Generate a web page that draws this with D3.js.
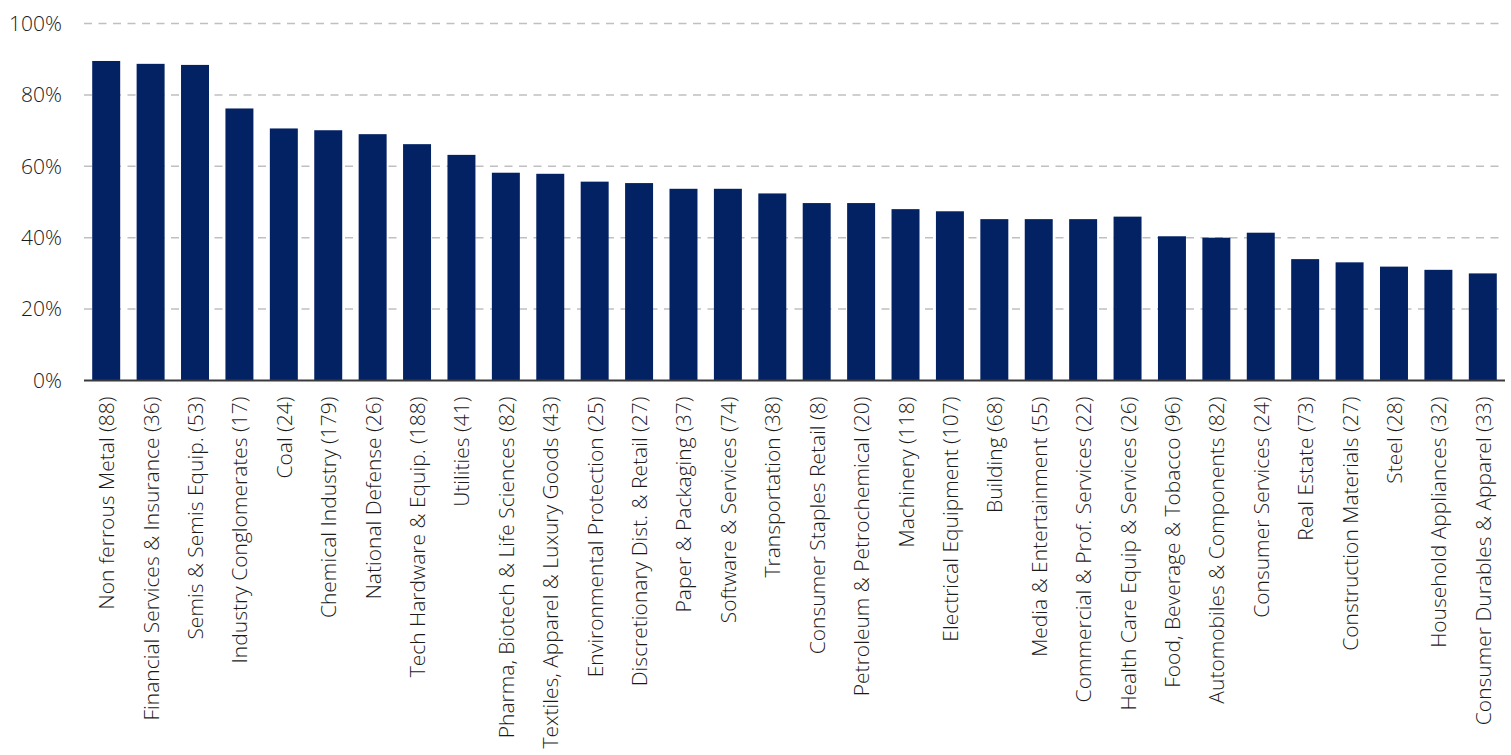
<!DOCTYPE html>
<html>
<head>
<meta charset="utf-8">
<script src="https://cdn.jsdelivr.net/npm/d3@7.9.0/dist/d3.min.js"></script>
<style>
  html, body { margin: 0; padding: 0; background: #fff; }
  text { font-family: "Open Sans", sans-serif; font-weight: 300; fill: #1a1a1a; }
</style>
</head>
<body>
<div id="chart"></div>
<script>
const categories = [
  "Non ferrous Metal (88)", "Financial Services & Insurance (36)", "Semis & Semis Equip. (53)",
  "Industry Conglomerates (17)", "Coal (24)", "Chemical Industry (179)", "National Defense (26)",
  "Tech Hardware & Equip. (188)", "Utilities (41)", "Pharma, Biotech & Life Sciences (82)",
  "Textiles, Apparel & Luxury Goods (43)", "Environmental Protection (25)",
  "Discretionary Dist. & Retail (27)", "Paper & Packaging (37)", "Software & Services (74)",
  "Transportation (38)", "Consumer Staples Retail (8)", "Petroleum & Petrochemical (20)",
  "Machinery (118)", "Electrical Equipment (107)", "Building (68)", "Media & Entertainment (55)",
  "Commercial & Prof. Services (22)", "Health Care Equip & Services (26)",
  "Food, Beverage & Tobacco (96)", "Automobiles & Components (82)", "Consumer Services (24)",
  "Real Estate (73)", "Construction Materials (27)", "Steel (28)", "Household Appliances (32)",
  "Consumer Durables & Apparel (33)"
];

const values = [
  89.5, 88.7, 88.4, 76.2, 70.6, 70.1, 69.0, 66.2, 63.2, 58.2, 57.9, 55.7, 55.3, 53.7, 53.7, 52.4,
  49.7, 49.7, 48.0, 47.4, 45.2, 45.2, 45.2, 45.9, 40.4, 40.0, 41.4, 34.0, 33.1, 31.9, 31.0, 30.0
];

const yTicks = [0, 20, 40, 60, 80, 100];

const width = 1511;
const height = 755;
const margin = { top: 23.5, right: 6, bottom: 374.5, left: 84 };

const svg = d3.select('#chart')
  .append('svg')
  .attr('width', width)
  .attr('height', height)
  .attr('viewBox', `0 0 ${width} ${height}`);

const x = d3.scaleBand()
  .domain(categories)
  .range([margin.left, width - margin.right])
  .paddingInner(0.37)
  .paddingOuter(0.185);

const y = d3.scaleLinear()
  .domain([0, 100])
  .range([height - margin.bottom, margin.top]);

// dashed gridlines
svg.append('g')
  .selectAll('line')
  .data(yTicks.filter(d => d > 0))
  .join('line')
  .attr('x1', margin.left)
  .attr('x2', width - margin.right)
  .attr('y1', d => y(d))
  .attr('y2', d => y(d))
  .attr('stroke', '#c0c0c0')
  .attr('stroke-width', 1.5)
  .attr('stroke-dasharray', '8,6.5');

// y labels
const yAxis = svg.append('g')
  .attr('transform', `translate(${margin.left},0)`)
  .call(d3.axisLeft(y).tickValues(yTicks).tickFormat(d => d + '%').tickSize(0).tickPadding(22));
yAxis.select('.domain').remove();
yAxis.selectAll('text')
  .attr('font-size', 21)
  .attr('font-family', '"Open Sans", sans-serif')
  .attr('fill', '#1a1a1a');

// bars
svg.append('g')
  .selectAll('rect')
  .data(values)
  .join('rect')
  .attr('x', (d, i) => x(categories[i]))
  .attr('width', x.bandwidth())
  .attr('y', d => y(d))
  .attr('height', d => y(0) - y(d))
  .attr('fill', '#022264');

// x axis
const xAxis = svg.append('g')
  .attr('transform', `translate(0,${y(0)})`)
  .call(d3.axisBottom(x).tickSize(0).tickPadding(0));
xAxis.select('.domain')
  .attr('stroke', '#3a3a3a')
  .attr('stroke-width', 2)
  .attr('d', `M${margin.left},0H${width - margin.right}`);
xAxis.selectAll('text')
  .attr('font-size', 21)
  .attr('font-family', '"Open Sans", sans-serif')
  .attr('fill', '#1a1a1a')
  .attr('text-anchor', 'end')
  .attr('dy', null)
  .attr('dominant-baseline', 'central')
  .attr('transform', 'translate(0,16) rotate(-90)')
  .attr('x', 0)
  .attr('y', 0);
</script>
</body>
</html>
